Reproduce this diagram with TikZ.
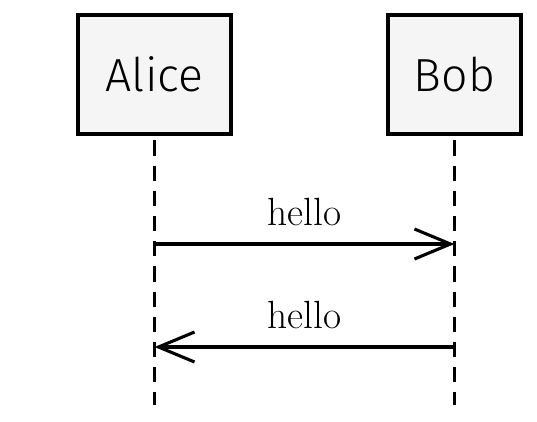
\documentclass[tikz,border=0pt]{standalone}
\usepackage{fontspec}
\newfontfamily\actorfont[UprightFont={* Light}]{Fira Sans}
\usetikzlibrary{arrows.meta,positioning}

\begin{document}
\begin{tikzpicture}[
	actor/.style={draw,line width=2.2pt,fill=black!4,minimum height=2.975cm,font=\actorfont\fontsize{33}{36}\selectfont},
	lifeline/.style={line width=2.2pt,dash pattern=on 0.38cm off 0.25cm,dash phase=0.51cm},
	msg/.style={line width=2.2pt,-{Straight Barb[length=0.9cm,width=0.75cm,line width=2.2pt]}},
	msglabel/.style={font=\fontsize{28}{32}\selectfont}]
	\useasboundingbox (0,0) rectangle (13.425,10.525);
	\node[actor,minimum width=3.825cm] (alice) at (3.8625,8.6625) {Alice};
	\node[actor,minimum width=3.325cm] (bob) at (11.3625,8.6625) {Bob};
	\coordinate (aliceend) at (3.8625,0.4);
	\coordinate (bobend) at (11.3625,0.4);
	\draw[lifeline] (alice.south) -- (aliceend);
	\draw[lifeline] (bob.south) -- (bobend);
	% messages
	\coordinate (a1) at (3.8625,4.425);
	\coordinate (b1) at (11.3625,4.425);
	\coordinate (a2) at (3.8625,1.85);
	\coordinate (b2) at (11.3625,1.85);
	\draw[msg] (a1) -- node[msglabel,above=0.3cm] (m1) {hello} (b1);
	\draw[msg] (b2) -- node[msglabel,above=0.3cm] (m2) {hello} (a2);
\end{tikzpicture}
\end{document}
